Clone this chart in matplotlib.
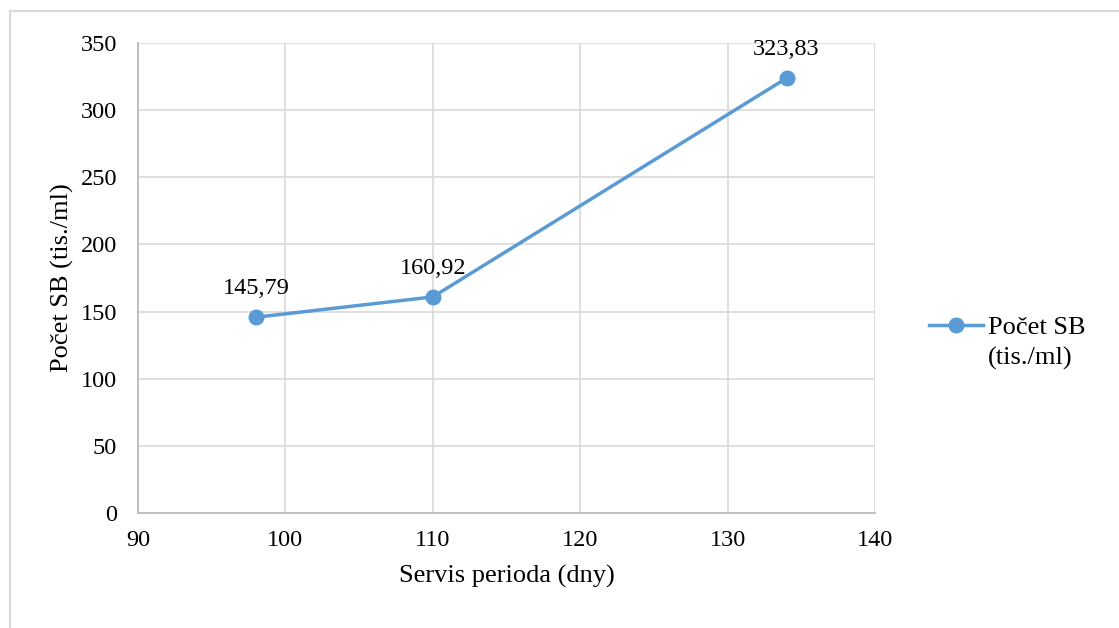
import matplotlib
matplotlib.use("Agg")
import matplotlib.pyplot as plt
from matplotlib.lines import Line2D

plt.rcParams['font.family'] = ['Liberation Serif', 'DejaVu Serif']

# Data
servis_perioda = [98, 110, 134]
pocet_sb = [145.79, 160.92, 323.83]
point_labels = ["145,79", "160,92", "323,83"]
x_ticks = [90, 100, 110, 120, 130, 140]
y_ticks = [0, 50, 100, 150, 200, 250, 300, 350]
series_name = "Počet SB"
series_unit = "(tis./ml)"

line_color = "#5B9BD5"
grid_color = "#D9D9D9"
spine_color = "#BFBFBF"

fig = plt.figure(figsize=(11.19, 6.28), dpi=100)
ax = fig.add_axes([138 / 1119, 1 - 513 / 628, (875 - 138) / 1119, (513 - 43) / 628])

ax.plot(servis_perioda, pocet_sb, color=line_color, linewidth=2.5,
        marker='o', markersize=10.5, zorder=3, clip_on=False)

for x, y, lab in zip(servis_perioda, pocet_sb, point_labels):
    ax.annotate(lab, (x, y), xytext=(0, 13), textcoords='offset points',
                ha='center', va='bottom', fontsize=17.5, color='#000000')

ax.set_xlim(90, 140)
ax.set_ylim(0, 350)
ax.set_xticks(x_ticks)
ax.set_yticks(y_ticks)
ax.tick_params(axis='both', length=0, labelsize=17.5, colors='#000000')
ax.tick_params(axis='x', pad=12)
ax.tick_params(axis='y', pad=15)

ax.grid(True, color=grid_color, linewidth=1.2, zorder=0)
ax.set_axisbelow(True)
for side in ['top', 'right']:
    ax.spines[side].set_visible(False)
for side in ['left', 'bottom']:
    ax.spines[side].set_color(spine_color)
    ax.spines[side].set_linewidth(1.4)

ax.set_xlabel("Servis perioda (dny)", fontsize=19, labelpad=10)
ax.set_ylabel("Počet SB (tis./ml)", fontsize=19, labelpad=5)

handle = Line2D([], [], color=line_color, linewidth=2.5, marker='o', markersize=10.5)
fig.legend([handle], [series_name], loc='center left',
           bbox_to_anchor=(905 / 1119, 1 - 327 / 628), frameon=False,
           fontsize=19, handlelength=2.05, handletextpad=0.2)
fig.text(988 / 1119, 1 - 358 / 628, series_unit, fontsize=19,
         ha='left', va='center')

# Chart frame
fig.add_artist(Line2D([9.5 / 1119, 1.0], [1 - 10.5 / 628] * 2, color=grid_color,
                      linewidth=1.5, transform=fig.transFigure))
fig.add_artist(Line2D([9.5 / 1119] * 2, [0, 1 - 10.5 / 628], color=grid_color,
                      linewidth=1.5, transform=fig.transFigure))

fig.savefig("out.png", dpi=100)
